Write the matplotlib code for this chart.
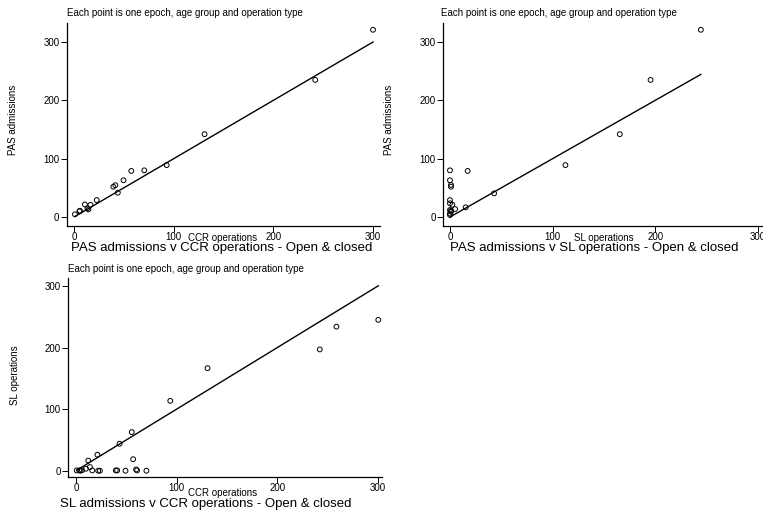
import matplotlib
matplotlib.use("Agg")
import matplotlib.pyplot as plt
import numpy as np

plt.rcParams['font.family'] = ['Liberation Sans', 'DejaVu Sans']

# Panel 1: PAS admissions v CCR operations
ccr1 = [300, 242, 131, 93, 70.5, 57.5, 49.7, 41.5, 39.5, 44, 22.8, 16.5, 11, 13.5, 14.5, 6, 5.5, 1]
pas1 = [321, 235, 142, 89, 80, 79, 63, 54.5, 52, 41.7, 29, 20.8, 21.5, 15, 13, 10.8, 9.7, 4.6]

# Panel 2: PAS admissions v SL operations
sl2 = [244.5, 195.5, 165.5, 112.5, 43, 17.2, 15.3, 5, 2.3, 0, 0, 1, 1, 0, 0, 1, 0, 0, 1, 0]
pas2 = [321, 235, 142, 89, 40.5, 79, 16.6, 13.7, 21, 80, 63, 55, 52, 29, 23.5, 10.8, 12, 6, 9, 3.4]

# Panel 3: SL operations v CCR operations
ccr3 = [300.3, 258.7, 242.2, 130.7, 93.7, 55.4, 43.3, 21.3, 12.2, 13.9, 56.8, 9.9, 0.7, 3.3,
        4.6, 6, 16.2, 22.1, 23.8, 39.6, 40.9, 49.2, 59.7, 60.7, 70]
sl3 = [245, 234, 197, 166.5, 113.5, 62.7, 43.8, 26, 16.5, 6, 18.7, 3.2, 0.5, 0.5,
       0, 0.8, 0.5, 0, 0, 0.5, 0.5, 0, 2, 0.5, 0]

ticks = [0, 100, 200, 300]
subtitle = "Each point is one epoch, age group and operation type"

W, H = 763, 518
fig = plt.figure(figsize=(W / 100, H / 100), dpi=100)


def px_axes(l, r, t, b):
    return fig.add_axes([l / W, 1 - b / H, (r - l) / W, (b - t) / H])


def panel(ax, x, y, xlim, ylim):
    ax.scatter(x, y, s=12, facecolors='none', edgecolors='black', linewidths=0.7, zorder=3)
    xs = np.array([min(x), max(x)])
    ax.plot(xs, xs, color='black', lw=1.0, zorder=2)
    ax.set_xlim(*xlim)
    ax.set_ylim(*ylim)
    ax.set_xticks(ticks)
    ax.set_yticks(ticks)
    for s in ['top', 'right']:
        ax.spines[s].set_visible(False)
    for s in ['left', 'bottom']:
        ax.spines[s].set_linewidth(0.9)
    ax.tick_params(direction='out', length=4, width=0.7, labelsize=7)
    ax.tick_params(axis='x', pad=0.3)
    ax.tick_params(axis='y', pad=1.5)
    ax.set_facecolor('none')


ax1 = px_axes(67, 380, 23, 226)
panel(ax1, ccr1, pas1, (-7, 307), (-15.4, 332.6))
ax2 = px_axes(443.3, 765, 23, 226)
panel(ax2, sl2, pas2, (-6.5, 307), (-15.4, 332.6))
ax3 = px_axes(68.3, 382, 278.3, 477)
panel(ax3, ccr3, sl3, (-7.6, 304), (-10.2, 312.5))


def ftext(x, y, s, size, ha='left', rot=0, va='baseline'):
    fig.text(x / W, 1 - y / H, s, fontsize=size, ha=ha, va=va, rotation=rot)


# subtitles
ftext(67, 16.3, subtitle, 7.0)
ftext(441, 16.3, subtitle, 7.0)
ftext(68.3, 272, subtitle, 7.0)
# x labels
ftext(223, 241.3, "CCR operations", 7.0, ha='center')
ftext(604, 241.3, "SL operations", 7.0, ha='center')
ftext(223, 496.5, "CCR operations", 7.0, ha='center')
# y labels
ftext(13, 120, "PAS admissions", 7.0, ha='center', rot=90, va='center')
ftext(389, 120, "PAS admissions", 7.0, ha='center', rot=90, va='center')
ftext(15, 375, "SL operations", 7.0, ha='center', rot=90, va='center')
# titles
ftext(222, 251, "PAS admissions v CCR operations - Open & closed", 9.5, ha='center')
ftext(594, 251, "PAS admissions v SL operations - Open & closed", 9.5, ha='center')
ftext(206, 507.5, "SL admissions v CCR operations - Open & closed", 9.5, ha='center')

fig.savefig("out.png", dpi=100)
